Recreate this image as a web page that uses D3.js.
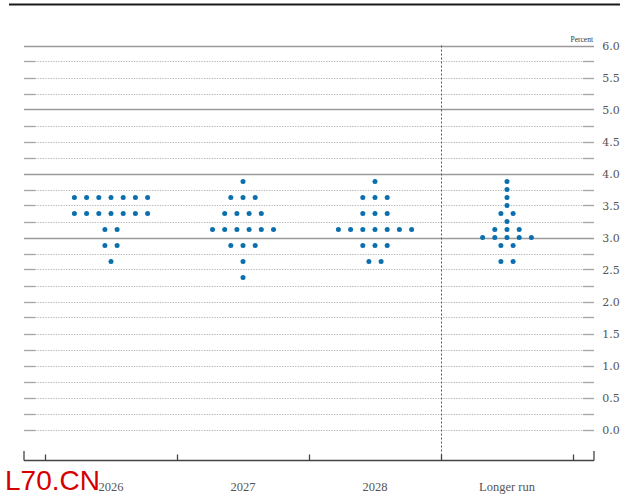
<!DOCTYPE html>
<html>
<head>
<meta charset="utf-8">
<script src="https://cdn.jsdelivr.net/npm/d3@7"></script>
<style>
  body { margin: 0; background: #fff; }
  svg { display: block; }
</style>
</head>
<body>
<svg width="633" height="499"></svg>
<script>
var svg = d3.select("svg"),
  width = +svg.attr("width"),
  height = +svg.attr("height");

// Data: one value per participant, midpoint of target range
var categories = ["2026", "2027", "2028", "Longer run"];
var proj2026 = [3.625, 3.625, 3.625, 3.625, 3.625, 3.625, 3.625,
  3.375, 3.375, 3.375, 3.375, 3.375, 3.375, 3.375,
  3.125, 3.125, 2.875, 2.875, 2.625];
var proj2027 = [3.875, 3.625, 3.625, 3.625,
  3.375, 3.375, 3.375, 3.375,
  3.125, 3.125, 3.125, 3.125, 3.125, 3.125,
  2.875, 2.875, 2.875, 2.625, 2.375];
var proj2028 = [3.875, 3.625, 3.625, 3.625, 3.375, 3.375, 3.375,
  3.125, 3.125, 3.125, 3.125, 3.125, 3.125, 3.125,
  2.875, 2.875, 2.875, 2.625, 2.625];
var projLonger = [3.875, 3.75, 3.625, 3.5, 3.375, 3.375, 3.25,
  3.125, 3.125, 3.125, 3.0, 3.0, 3.0, 3.0, 3.0,
  2.875, 2.875, 2.625, 2.625];
var projections = [proj2026, proj2027, proj2028, projLonger];
var yTicks = [0, 0.5, 1, 1.5, 2, 2.5, 3, 3.5, 4, 4.5, 5, 5.5, 6];

// Scales
var y = d3.scaleLinear().domain([0, 6]).range([429.5, 45.5]);
var x = d3.scaleBand().domain(categories).range([45, 573]);
var gridLeft = 24, gridRight = 594, axisY = 460.5;
var dotGap = 12.2;
var blue = "#0b6fae";

// top rule
svg.append("line")
  .attr("x1", 9).attr("x2", 620).attr("y1", 4.5).attr("y2", 4.5)
  .attr("stroke", "#1a1a1a").attr("stroke-width", 2.2);

// gridlines every quarter point
var gridVals = d3.range(0, 6.001, 0.25);
var grid = svg.append("g").attr("class", "grid");
gridVals.forEach(function(v) {
  var yy = Math.round(y(v)) + 0.5;
  var solid = v >= 3 && v % 1 === 0;
  if (solid) {
    grid.append("line")
      .attr("x1", gridLeft).attr("x2", gridRight).attr("y1", yy).attr("y2", yy)
      .attr("stroke", "#9a9a9a").attr("stroke-width", 1.4);
  } else {
    grid.append("line")
      .attr("x1", gridLeft + 11).attr("x2", gridRight - 11).attr("y1", yy).attr("y2", yy)
      .attr("stroke", "#b5b5b5").attr("stroke-width", 1).attr("stroke-dasharray", "1.3,1.3");
    [[gridLeft, gridLeft + 11], [gridRight - 11, gridRight]].forEach(function(e) {
      grid.append("line")
        .attr("x1", e[0]).attr("x2", e[1]).attr("y1", yy).attr("y2", yy)
        .attr("stroke", "#a8a8a8").attr("stroke-width", 1.4);
    });
  }
});

// y labels on the right
svg.append("g").selectAll("text")
  .data(yTicks).enter().append("text")
  .attr("x", 611).attr("y", function(d) { return y(d) + 4; })
  .attr("text-anchor", "middle")
  .attr("font-family", "DejaVu Serif").attr("font-size", 11)
  .attr("fill", "#555")
  .text(function(d) { return d3.format(".1f")(d); });

svg.append("text")
  .attr("x", 593).attr("y", 41.5).attr("text-anchor", "end")
  .attr("font-family", "Liberation Serif").attr("font-size", 7.5)
  .attr("fill", "#333").text("Percent");

// vertical divider before longer run
var divX = Math.round(x("Longer run")) + 0.5;
svg.append("line")
  .attr("x1", divX).attr("x2", divX).attr("y1", y(6)).attr("y2", axisY)
  .attr("stroke", "#555").attr("stroke-width", 1).attr("stroke-dasharray", "2,2");

// bottom axis
var ax = svg.append("g");
ax.append("line")
  .attr("x1", gridLeft).attr("x2", gridRight).attr("y1", axisY).attr("y2", axisY)
  .attr("stroke", "#444").attr("stroke-width", 1.3);
[gridLeft, gridRight].forEach(function(xx) {
  ax.append("line").attr("x1", xx).attr("x2", xx).attr("y1", 451).attr("y2", axisY)
    .attr("stroke", "#444").attr("stroke-width", 1.3);
});
var bounds = categories.map(function(c) { return x(c); }).concat([x.range()[1]]);
ax.selectAll(".tk").data(bounds).enter().append("line")
  .attr("x1", function(d) { return Math.round(d) + 0.5; })
  .attr("x2", function(d) { return Math.round(d) + 0.5; })
  .attr("y1", 454.5).attr("y2", axisY)
  .attr("stroke", "#444").attr("stroke-width", 1.3);

ax.selectAll(".cat").data(categories).enter().append("text")
  .attr("x", function(d) { return x(d) + x.bandwidth() / 2; })
  .attr("y", 491)
  .attr("text-anchor", "middle")
  .attr("font-family", "Liberation Serif").attr("font-size", 12.5)
  .attr("fill", "#555")
  .text(function(d) { return d; });

// dots: group each year's values into rows, spread around the band center
var dots = [];
projections.forEach(function(vals, i) {
  var cat = categories[i];
  var rows = d3.group(vals, function(v) { return v; });
  rows.forEach(function(list, v) {
    list.forEach(function(_, j) {
      dots.push({cat: cat, value: v, offset: (j - (list.length - 1) / 2) * dotGap});
    });
  });
});

svg.append("g").selectAll("circle")
  .data(dots).enter().append("circle")
  .attr("cx", function(d) { return x(d.cat) + x.bandwidth() / 2 + d.offset; })
  .attr("cy", function(d) { return y(d.value); })
  .attr("r", 2.5)
  .attr("fill", blue);

// watermark
svg.append("text")
  .attr("x", 5).attr("y", 490)
  .attr("font-family", "Liberation Sans").attr("font-size", 28)
  .attr("fill", "#d40000")
  .text("L70.CN");
</script>
</body>
</html>
